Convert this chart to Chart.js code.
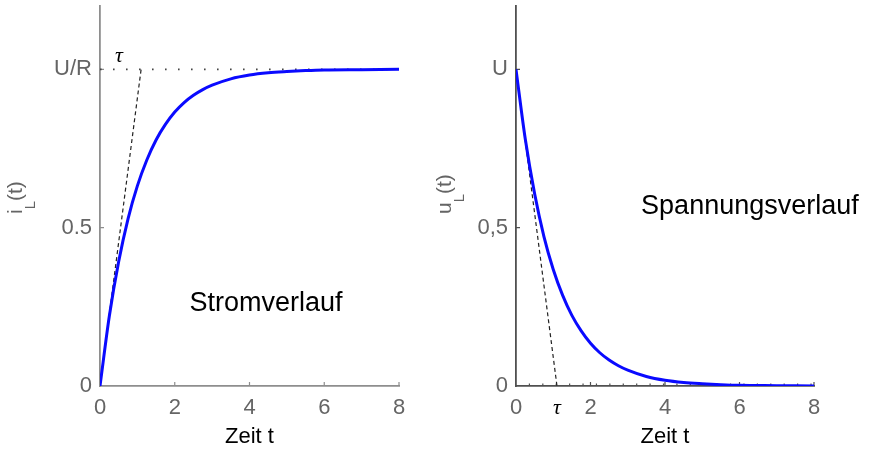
<!DOCTYPE html>
<html>
<head>
<meta charset="utf-8">
<script src="https://cdn.jsdelivr.net/npm/chart.js@4.4.0/dist/chart.umd.min.js"></script>
<style>
  html, body { margin: 0; padding: 0; background: #fff; overflow: hidden; }
  #wrap { position: relative; width: 881px; height: 452px; }
  .panel { position: absolute; top: 0; height: 452px; }
</style>
</head>
<body>
<div id="wrap">
  <div class="panel" style="left:0;width:430px"><canvas id="strom"></canvas></div>
  <div class="panel" style="left:430px;width:451px"><canvas id="spannung"></canvas></div>
</div>
<script>
const zeit          = [0, 0.25, 0.5, 0.75, 1, 1.25, 1.5, 1.75, 2, 2.25, 2.5, 2.75, 3, 3.5, 4, 4.5, 5, 5.5, 6, 7, 8];
const stromWerte    = [0, 0.221, 0.393, 0.528, 0.632, 0.713, 0.777, 0.826, 0.865, 0.895, 0.918, 0.936, 0.950, 0.970, 0.982, 0.989, 0.993, 0.996, 0.998, 0.999, 1.0];
const spannungWerte = [1, 0.779, 0.607, 0.472, 0.368, 0.287, 0.223, 0.174, 0.135, 0.105, 0.082, 0.064, 0.050, 0.030, 0.018, 0.011, 0.007, 0.004, 0.002, 0.001, 0];
const tau = 1.1;

const xTicks = [0, 2, 4, 6, 8];
const yTicks = [0, 0.5, 1];
const stromYLabels    = ['0', '0.5', 'U/R'];
const spannungYLabels = ['0', '0,5', 'U'];

const SANS = '"Liberation Sans", Arial, sans-serif';
const GRAU = '#656565';

const pts = (xs, ys) => xs.map((x, i) => ({ x: x, y: ys[i] }));

// Achsentitel mit Index, kleine Striche nach innen, Texte im Diagramm
const beschriftung = {
  id: 'beschriftung',
  beforeDatasetsDraw(chart, args, o) {
    const { ctx, scales: { x, y } } = chart;
    ctx.save();
    ctx.strokeStyle = o.achsFarbe;
    ctx.lineWidth = 1.2;
    ctx.beginPath();
    xTicks.slice(1).forEach(v => {
      const px = x.getPixelForValue(v);
      ctx.moveTo(px, y.bottom); ctx.lineTo(px, y.bottom - 4);
    });
    (o.minor || []).forEach(v => {
      const px = x.getPixelForValue(v);
      ctx.moveTo(px, y.bottom); ctx.lineTo(px, y.bottom - 2.5);
    });
    yTicks.slice(1).forEach(v => {
      const py = y.getPixelForValue(v);
      ctx.moveTo(x.left, py); ctx.lineTo(x.left + 4, py);
    });
    ctx.stroke();
    ctx.restore();
  },
  afterDraw(chart, args, o) {
    const { ctx, scales: { x, y } } = chart;
    ctx.save();
    // y-Titel, gedreht
    ctx.translate(o.titelX, o.titelY);
    ctx.rotate(-Math.PI / 2);
    ctx.fillStyle = GRAU;
    ctx.textBaseline = 'alphabetic';
    ctx.textAlign = 'left';
    ctx.font = '21px ' + SANS;
    ctx.fillText(o.titel[0], 0, 0);
    let w = ctx.measureText(o.titel[0]).width;
    ctx.font = '15px ' + SANS;
    ctx.fillText(o.titel[1], w, 13);
    w += ctx.measureText(o.titel[1]).width;
    ctx.font = '21px ' + SANS;
    ctx.fillText(o.titel[2], w, 0);
    ctx.restore();

    ctx.save();
    ctx.fillStyle = '#000';
    o.texte.forEach(t => {
      ctx.font = t.font;
      ctx.textAlign = 'center';
      ctx.textBaseline = t.basis;
      ctx.fillText(t.text, x.getPixelForValue(t.x), y.getPixelForValue(t.y));
    });
    ctx.restore();
  }
};

function achsen(yLabels, yWidth, achsFarbe, xTickWerte) {
  return {
    x: {
      type: 'linear', min: 0, max: 8,
      grid: { display: false, drawTicks: false },
      border: { display: true, color: achsFarbe, width: 1.8 },
      afterBuildTicks: s => { s.ticks = xTickWerte.map(v => ({ value: v })); },
      afterFit: s => { s.height = 66; },
      ticks: {
        padding: 9,
        color: ctx => ctx.tick && ctx.tick.value === tau ? '#000' : GRAU,
        font: ctx => ctx.tick && ctx.tick.value === tau
          ? { family: '"Liberation Serif", "DejaVu Serif", serif', size: 22, style: 'italic' }
          : { family: SANS, size: 22 },
        callback: v => v === tau ? 'τ' : String(v)
      },
      title: {
        display: true, text: 'Zeit t', color: '#000',
        font: { family: SANS, size: 22 }, padding: { top: 0, bottom: 2 }
      }
    },
    y: {
      type: 'linear', min: 0, max: 1.2,
      grid: { display: false, drawTicks: false },
      border: { display: true, color: achsFarbe, width: 1.8 },
      afterBuildTicks: s => { s.ticks = yTicks.map(v => ({ value: v })); },
      afterFit: s => { s.width = yWidth; s.paddingTop = 0; s.paddingBottom = 0; },
      ticks: {
        padding: 8, color: GRAU,
        font: { family: SANS, size: 22 },
        callback: v => yLabels[yTicks.indexOf(v)]
      }
    }
  };
}

const blau = {
  borderColor: '#0a0aff', borderWidth: 3, pointRadius: 0,
  cubicInterpolationMode: 'monotone', fill: false
};

// Stromverlauf
new Chart(document.getElementById('strom'), {
  type: 'line',
  data: {
    datasets: [
      Object.assign({ data: pts(zeit, stromWerte) }, blau),
      { data: [{ x: 0, y: 0 }, { x: tau, y: 1 }], borderColor: '#222', borderWidth: 1.2,
        borderDash: [4, 3], pointRadius: 0 },
      { data: [{ x: 0, y: 1 }, { x: 8, y: 1 }], borderColor: '#444', borderWidth: 1.6,
        borderDash: [1.6, 11.4], pointRadius: 0 }
    ]
  },
  options: {
    responsive: true, maintainAspectRatio: false, animation: false,
    layout: { padding: { top: 6, right: 31, left: 0, bottom: 0 } },
    scales: achsen(stromYLabels, 100, '#8e8e8e', xTicks),
    plugins: {
      legend: { display: false }, tooltip: { enabled: false },
      beschriftung: {
        achsFarbe: '#8e8e8e',
        titel: ['i', 'L', '(t)'], titelX: 22, titelY: 214,
        texte: [
          { text: 'Stromverlauf', x: 4.44, y: 0.26, font: '27px ' + SANS, basis: 'middle' },
          { text: 'τ', x: 0.51, y: 1.023, font: 'italic 22px "Liberation Serif", serif', basis: 'alphabetic' }
        ]
      }
    }
  },
  plugins: [beschriftung]
});

// Spannungsverlauf
const minorTicks = [];
for (let v = 0.36; v < 8; v += 0.36) minorTicks.push(v);

new Chart(document.getElementById('spannung'), {
  type: 'line',
  data: {
    datasets: [
      Object.assign({ data: pts(zeit, spannungWerte) }, blau),
      { data: [{ x: 0, y: 1 }, { x: tau, y: 0 }], borderColor: '#222', borderWidth: 1.2,
        borderDash: [4, 3], pointRadius: 0 }
    ]
  },
  options: {
    responsive: true, maintainAspectRatio: false, animation: false,
    layout: { padding: { top: 6, right: 67, left: 0, bottom: 0 } },
    scales: achsen(spannungYLabels, 86, '#505050', [0, tau, 2, 4, 6, 8]),
    plugins: {
      legend: { display: false }, tooltip: { enabled: false },
      beschriftung: {
        achsFarbe: '#505050', minor: minorTicks,
        titel: ['u', 'L', '(t)'], titelX: 21, titelY: 214,
        texte: [
          { text: 'Spannungsverlauf', x: 6.28, y: 0.566, font: '27px ' + SANS, basis: 'middle' }
        ]
      }
    }
  },
  plugins: [beschriftung]
});
</script>
</body>
</html>
